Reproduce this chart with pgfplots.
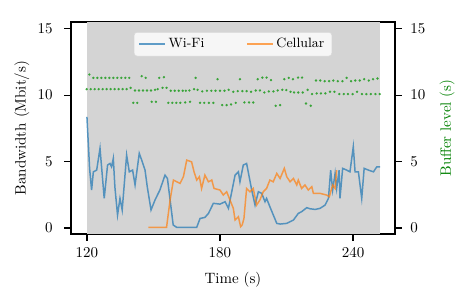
\documentclass[border=0pt]{standalone}
\usepackage{pgfplots}
\pgfplotsset{compat=1.18}
\definecolor{tabblue}{RGB}{31,119,180}
\definecolor{taborange}{RGB}{255,127,14}
\definecolor{tabgreen}{RGB}{44,160,44}
\definecolor{labgreen}{RGB}{0,128,0}
\definecolor{bggray}{RGB}{212,212,212}
\begin{document}
\begin{tikzpicture}
\pgfplotsset{
  common/.style={
    at={(0pt,0pt)}, anchor=south west,
    scale only axis, width=216pt, height=141.3pt,
    xmin=112.8, xmax=258.9, ymin=-0.45, ymax=15.5,
    ytick={0,5,10,15},
    tick align=outside, major tick length=4.5pt,
    every tick/.style={black, line width=0.8pt},
    axis line style={line width=0.8pt},
  }
}
\begin{axis}[common,
  xtick={120,180,240}, xtick pos=bottom, ytick pos=left,
  yticklabel shift=4.2pt, xticklabel shift=1.5pt,
  xlabel={Time (s)}, ylabel={Bandwidth (Mbit/s)},
  xlabel style={at={(axis description cs:0.5,-0.2173)}, anchor=center},
  ylabel style={at={(axis description cs:-0.1514,0.5)}, anchor=center},
  legend columns=2,
  legend style={at={(0.5,0.953)}, anchor=north, fill=white, fill opacity=0.8, text opacity=1,
    draw=black!15, rounded corners=2pt, font=\small,
    /tikz/every even column/.append style={column sep=26pt}},
  legend cell align=left,
]
\fill[bggray] (axis cs:120,-0.45) rectangle (axis cs:252.2,15.5);
\addplot[tabblue, opacity=0.7, line width=1pt] coordinates {
(120.0,8.37) (121.2,4.5) (122.1,2.86) (122.9,4.23) (124.4,4.36) (125.9,6.00) (127.8,2.23)
(129.3,4.74) (130.4,4.86) (131.1,4.61) (131.9,5.24) (132.6,3.11) (133.8,0.98) (134.9,2.23)
(135.9,1.36) (137.9,5.49) (139.1,4.23) (140.6,4.36) (141.7,3.24) (143.6,5.62) (144.7,5.11)
(146.2,4.36) (147.2,3.11) (148.9,1.36) (150.7,2.11) (152.9,2.86) (155.2,3.98) (156.3,3.73)
(158.9,0.23) (160.5,0.05) (169.5,0.05) (171.0,0.72) (173.2,0.80) (174.8,1.10) (177.0,1.86)
(180.0,1.80) (182.3,1.98) (183.8,1.48) (185.3,2.73) (186.8,3.98) (188.3,4.23) (189.0,3.48)
(190.5,4.74) (192.0,4.86) (194.3,2.86) (195.8,1.73) (197.3,2.73) (198.8,2.61) (200.3,1.98)
(201.0,2.23) (202.5,1.60) (205.6,0.35) (207.1,0.30) (210.1,0.35) (213.1,0.60) (215.3,1.10)
(216.8,1.23) (219.1,1.53) (220.6,1.45) (222.9,1.40) (225.1,1.48) (227.4,1.73) (228.9,2.23)
(229.9,4.36) (230.8,2.86) (231.9,4.11) (232.6,2.98) (233.7,4.36) (234.1,2.23) (235.3,4.49)
(237.1,4.36) (238.6,4.23) (240.1,6.12) (240.9,4.23) (242.4,4.23) (243.9,2.23) (245.0,4.49)
(246.9,4.36) (249.2,4.23) (250.7,4.61) (252.2,4.61)
};
\addlegendentry{Wi-Fi}
\addplot[taborange, opacity=0.7, line width=1pt] coordinates {
(147.7,0.05) (155.9,0.05) (157.5,2.11) (159.0,3.61) (160.5,3.48) (162.0,3.36) (163.5,3.86)
(165.0,5.11) (167.2,4.98) (168.3,4.23) (169.5,3.61) (170.7,3.86) (171.7,2.98) (173.2,3.98)
(174.8,3.48) (176.3,3.61) (177.3,2.98) (180.0,2.86) (181.5,2.48) (183.0,2.73) (184.5,2.11)
(186.0,1.48) (186.8,0.60) (188.3,0.85) (189.3,0.10) (190.0,0.23) (190.8,0.72) (192.0,2.98)
(193.5,2.73) (195.0,2.98) (196.5,1.73) (198.0,2.11) (199.5,2.73) (201.0,2.98) (202.5,3.61)
(204.0,3.48) (205.6,4.11) (207.1,3.73) (209.0,4.49) (210.1,3.86) (211.6,3.48) (213.1,3.73)
(214.6,3.24) (215.3,3.61) (216.8,2.98) (218.3,3.24) (219.8,2.86) (221.4,3.11) (222.1,2.61)
(225.1,2.61) (228.1,2.48) (229.3,2.36) (230.8,3.24) (231.9,2.98) (232.6,4.36)
};
\addlegendentry{Cellular}
\end{axis}
\begin{axis}[common,
  axis x line=none, axis y line*=right,
  yticklabel shift=2.2pt,
  ylabel={Buffer level (s)},
  ylabel style={color=labgreen, at={(axis description cs:1.1606,0.5)}, anchor=center},
]
\addplot[only marks, mark=*, mark size=0.6pt, tabgreen, opacity=0.8] coordinates {
(121.1,11.55) (122.9,11.3) (124.7,11.3) (126.5,11.3) (128.3,11.3) (130.1,11.3) (131.9,11.3)
(133.7,11.3) (135.5,11.3) (137.3,11.3) (139.1,11.3) (144.7,11.43) (146.5,11.3) (152.6,11.3)
(154.7,11.35) (169.0,11.3) (178.9,11.2) (189.0,11.2) (197.0,11.2) (199.1,11.32) (201.0,11.32)
(203.0,11.13) (209.0,11.2) (211.0,11.3) (212.9,11.2) (215.2,11.32) (217.0,11.32) (223.3,11.1)
(225.2,11.1) (227.2,11.05) (229.2,11.05) (231.1,11.1) (233.1,11.05) (235.2,11.05) (237.1,11.3)
(239.1,11.05) (241.0,11.1) (243.0,11.1) (245.0,11.2) (247.1,11.1) (249.0,11.2) (251.0,11.25)
(119.9,10.45) (121.7,10.45) (123.5,10.45) (125.3,10.45) (127.1,10.45) (128.9,10.45) (130.7,10.45)
(132.5,10.45) (134.3,10.45) (136.1,10.45) (137.9,10.45) (139.7,10.55) (141.7,10.35) (143.5,10.35)
(145.3,10.35) (147.1,10.35) (148.9,10.35) (150.7,10.4) (151.9,10.45) (154.1,10.55) (155.9,10.55)
(157.8,10.33) (159.6,10.33) (161.4,10.33) (163.2,10.33) (164.6,10.33) (166.2,10.35) (168.3,10.45)
(169.9,10.4) (172.0,10.28) (174.1,10.33) (176.1,10.33) (178.0,10.33) (180.0,10.33) (182.0,10.33)
(183.9,10.4) (186.0,10.25) (188.0,10.3) (190.1,10.3) (192.0,10.3) (194.0,10.25) (196.1,10.35)
(198.0,10.35) (200.0,10.2) (202.0,10.28) (204.1,10.28) (206.0,10.35) (208.1,10.4) (209.9,10.38)
(211.8,10.25) (213.4,10.2) (215.3,10.2) (217.3,10.2) (219.5,10.4) (221.5,10.08) (223.6,10.13)
(225.5,10.13) (227.5,10.13) (229.6,10.25) (231.6,10.25) (233.8,10.08) (235.8,10.08) (237.7,10.08)
(239.8,10.08) (241.8,10.25) (244.0,10.08) (246.0,10.08) (248.0,10.08) (250.1,10.08) (252.0,10.08)
(140.9,9.42) (142.7,9.42) (149.2,9.5) (151.1,9.5) (156.7,9.42) (158.5,9.42) (160.3,9.42)
(162.1,9.42) (164.3,9.45) (166.5,9.5) (171.0,9.42) (172.9,9.42) (175.0,9.42) (177.0,9.42)
(181.0,9.25) (183.0,9.25) (185.0,9.3) (187.1,9.42) (191.0,9.45) (193.1,9.45) (195.0,9.45)
(205.1,9.2) (207.1,9.25) (218.8,9.37) (220.9,9.2)
};
\end{axis}
\pgfresetboundingbox
\path[use as bounding box] (-47.3pt,-46.7pt) rectangle (264pt,156pt);
\end{tikzpicture}
\end{document}
